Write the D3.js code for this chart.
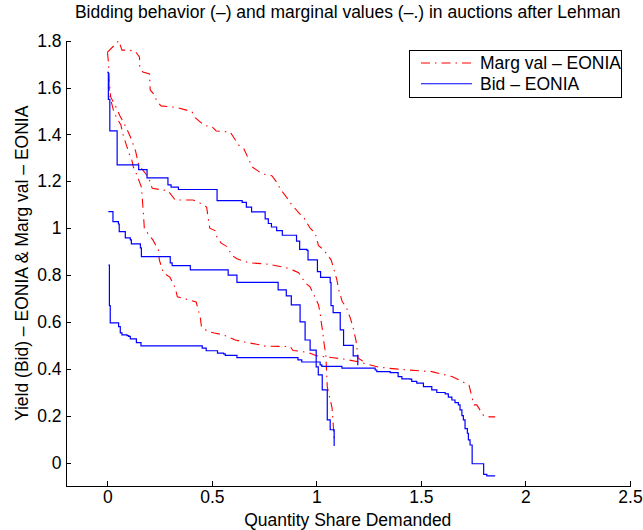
<!DOCTYPE html>
<html>
<head>
<meta charset="utf-8">
<script src="https://cdn.jsdelivr.net/npm/d3@7"></script>
<style>
  body { margin: 0; background: #fff; }
  svg { display: block; font-family: "Liberation Sans", Arial, sans-serif; }
</style>
</head>
<body>
<div id="chart"></div>
<script>
// marginal values (dash-dot, red)
const margValA = [[0.0,1.75],[0.055,1.80],[0.07,1.76],[0.1,1.76],[0.134,1.755],[0.154,1.73],[0.155,1.69],[0.17,1.666],[0.202,1.658],[0.205,1.59],[0.225,1.569],[0.238,1.54],[0.257,1.522],[0.285,1.519],[0.333,1.515],[0.405,1.497],[0.42,1.472],[0.464,1.438],[0.50,1.433],[0.521,1.415],[0.588,1.41],[0.628,1.355],[0.652,1.341],[0.68,1.287],[0.692,1.262],[0.74,1.232],[0.787,1.224],[0.808,1.199],[0.827,1.168],[0.859,1.13],[0.875,1.108],[0.916,1.065],[0.938,1.048],[0.97,1.0],[0.994,0.98],[1.01,0.925],[1.033,0.91],[1.071,0.864],[1.08,0.835],[1.098,0.78],[1.106,0.74],[1.124,0.686],[1.142,0.665],[1.162,0.617],[1.176,0.575],[1.19,0.518],[1.195,0.48],[1.2,0.445],[1.228,0.43]];
const margValB = [[0.001,1.75],[0.006,1.70],[0.01,1.62],[0.016,1.56],[0.04,1.52],[0.06,1.48],[0.09,1.43],[0.11,1.39],[0.135,1.33],[0.15,1.27],[0.19,1.225],[0.2,1.21],[0.215,1.17],[0.25,1.165],[0.29,1.16],[0.325,1.12],[0.41,1.12],[0.445,1.107],[0.475,1.09],[0.483,1.04],[0.49,1.0],[0.515,0.99],[0.526,0.957],[0.545,0.936],[0.575,0.92],[0.595,0.885],[0.62,0.87],[0.65,0.86],[0.68,0.852],[0.755,0.848],[0.79,0.843],[0.86,0.83],[0.89,0.82],[0.915,0.81],[0.932,0.788],[0.946,0.767],[0.97,0.75],[0.985,0.72],[1.0,0.694],[1.01,0.673],[1.018,0.638],[1.023,0.6],[1.03,0.56],[1.037,0.506],[1.045,0.46],[1.05,0.366],[1.052,0.323],[1.066,0.268],[1.075,0.233],[1.08,0.17],[1.085,0.095]];
const margValC = [[0.008,1.625],[0.01,1.57],[0.03,1.5],[0.045,1.47],[0.065,1.44],[0.075,1.40],[0.1,1.33],[0.105,1.316],[0.115,1.30],[0.125,1.26],[0.14,1.23],[0.163,1.175],[0.167,1.13],[0.172,1.07],[0.177,1.0],[0.195,0.976],[0.218,0.95],[0.244,0.907],[0.249,0.864],[0.268,0.81],[0.3,0.79],[0.325,0.745],[0.335,0.707],[0.392,0.694],[0.425,0.685],[0.445,0.617],[0.45,0.58],[0.48,0.56],[0.511,0.553],[0.555,0.545],[0.612,0.523],[0.65,0.515],[0.714,0.505],[0.755,0.497],[0.875,0.495],[0.888,0.478],[0.92,0.475],[0.966,0.468],[1.0,0.456],[1.08,0.447],[1.128,0.442],[1.2,0.43],[1.296,0.408],[1.338,0.403],[1.44,0.395],[1.552,0.388],[1.648,0.367],[1.70,0.345],[1.73,0.33],[1.745,0.276],[1.754,0.246],[1.767,0.246],[1.80,0.2],[1.83,0.195],[1.855,0.195]];

// bids (solid, blue)
const bidA = [[0.0,1.665],[0.005,1.55],[0.012,1.415],[0.045,1.415],[0.047,1.27],[0.15,1.27],[0.15,1.25],[0.19,1.25],[0.19,1.215],[0.29,1.215],[0.29,1.185],[0.305,1.175],[0.34,1.165],[0.52,1.165],[0.525,1.118],[0.64,1.118],[0.645,1.11],[0.665,1.09],[0.69,1.07],[0.755,1.065],[0.755,1.04],[0.77,1.02],[0.785,1.005],[0.81,0.99],[0.837,0.97],[0.894,0.97],[0.905,0.945],[0.92,0.91],[0.955,0.905],[0.96,0.865],[0.999,0.865],[1.005,0.815],[1.02,0.79],[1.066,0.768],[1.07,0.67],[1.08,0.64],[1.114,0.566],[1.13,0.5],[1.176,0.455],[1.198,0.415]];
const bidB = [[0.005,1.071],[0.027,1.071],[0.027,1.028],[0.053,1.018],[0.057,0.985],[0.086,0.959],[0.11,0.95],[0.115,0.933],[0.158,0.916],[0.163,0.879],[0.293,0.879],[0.301,0.852],[0.31,0.84],[0.387,0.84],[0.397,0.822],[0.548,0.822],[0.578,0.80],[0.62,0.769],[0.793,0.769],[0.817,0.737],[0.856,0.711],[0.88,0.673],[0.908,0.673],[0.922,0.6],[0.946,0.523],[0.97,0.48],[0.999,0.408],[1.009,0.374],[1.028,0.31],[1.052,0.182],[1.066,0.14],[1.085,0.071]];
const bidC = [[0.005,0.843],[0.01,0.67],[0.014,0.596],[0.054,0.596],[0.054,0.58],[0.062,0.553],[0.07,0.545],[0.094,0.542],[0.102,0.538],[0.11,0.528],[0.134,0.528],[0.139,0.512],[0.161,0.505],[0.161,0.498],[0.453,0.498],[0.454,0.488],[0.473,0.477],[0.525,0.477],[0.527,0.467],[0.556,0.464],[0.564,0.457],[0.62,0.448],[0.906,0.448],[0.912,0.438],[0.93,0.429],[1.018,0.417],[1.026,0.41],[1.066,0.41],[1.122,0.403],[1.281,0.395],[1.289,0.388],[1.353,0.384],[1.391,0.367],[1.409,0.357],[1.448,0.356],[1.456,0.346],[1.48,0.339],[1.512,0.324],[1.552,0.31],[1.576,0.299],[1.616,0.293],[1.631,0.279],[1.648,0.267],[1.663,0.256],[1.679,0.246],[1.687,0.225],[1.696,0.2],[1.703,0.182],[1.711,0.145],[1.722,0.125],[1.727,0.097],[1.735,0.075],[1.745,-0.005],[1.79,-0.005],[1.8,-0.05],[1.815,-0.057],[1.855,-0.057]];

const xTicks = [0, 0.5, 1, 1.5, 2, 2.5];
const xTickLabels = ["0", "0.5", "1", "1.5", "2", "2.5"];
const yTicks = [0, 0.2, 0.4, 0.6, 0.8, 1, 1.2, 1.4, 1.6, 1.8];
const yTickLabels = ["0", "0.2", "0.4", "0.6", "0.8", "1", "1.2", "1.4", "1.6", "1.8"];
const legendLabels = ["Marg val \u2013 EONIA", "Bid \u2013 EONIA"];

const width = 643, height = 530;
const fontSize = "17.5px";
const dashDot = "9,5,1.5,5";

const svg = d3.select("#chart").append("svg")
  .attr("width", width)
  .attr("height", height);

const x = d3.scaleLinear().domain([-0.2, 2.5]).range([65.5, 630]);
const y = d3.scaleLinear().domain([-0.1, 1.8]).range([486, 40.7]);

const line = d3.line()
  .x(d => x(d[0]))
  .y(d => y(d[1]));
const stepLine = d3.line()
  .x(d => x(d[0]))
  .y(d => y(d[1]))
  .curve(d3.curveStepAfter);

// marginal value curves first, bids on top
[margValA, margValB, margValC].forEach(s => {
  svg.append("path")
    .datum(s)
    .attr("fill", "none")
    .attr("stroke", "#ff0000")
    .attr("stroke-width", 1.1)
    .attr("stroke-dasharray", dashDot)
    .attr("d", line);
});

[bidA, bidB, bidC].forEach(s => {
  svg.append("path")
    .datum(s)
    .attr("fill", "none")
    .attr("stroke", "#0000ff")
    .attr("stroke-width", 1.2)
    .attr("d", stepLine);
});

// axes, ticks pointing inside
const xAxis = svg.append("g")
  .attr("transform", `translate(0,${y(-0.1)})`)
  .call(d3.axisBottom(x)
    .tickValues(xTicks)
    .tickFormat((d, i) => xTickLabels[i])
    .tickSizeInner(-5)
    .tickSizeOuter(0)
    .tickPadding(5));

const yAxis = svg.append("g")
  .attr("transform", `translate(${x(-0.2)},0)`)
  .call(d3.axisLeft(y)
    .tickValues(yTicks)
    .tickFormat((d, i) => yTickLabels[i])
    .tickSizeInner(-5)
    .tickSizeOuter(0)
    .tickPadding(4));

[xAxis, yAxis].forEach(a => {
  a.selectAll("path, line").attr("stroke", "#000").attr("shape-rendering", "crispEdges");
  a.selectAll("text")
    .attr("fill", "#000")
    .style("font-size", fontSize)
    .style("font-family", "\"Liberation Sans\", Arial, sans-serif");
});

// title and labels
svg.append("text")
  .attr("x", (x(-0.2) + x(2.5)) / 2)
  .attr("y", 18)
  .attr("text-anchor", "middle")
  .style("font-size", fontSize)
  .text("Bidding behavior (\u2013) and marginal values (\u2013.) in auctions after Lehman");

svg.append("text")
  .attr("x", (x(-0.2) + x(2.5)) / 2)
  .attr("y", 526)
  .attr("text-anchor", "middle")
  .style("font-size", fontSize)
  .text("Quantity Share Demanded");

svg.append("text")
  .attr("transform", `translate(28,${(y(-0.1) + y(1.8)) / 2}) rotate(-90)`)
  .attr("text-anchor", "middle")
  .style("font-size", fontSize)
  .text("Yield (Bid) \u2013 EONIA & Marg val \u2013 EONIA");

// legend
const legend = svg.append("g").attr("transform", "translate(409,50)");
legend.append("rect")
  .attr("width", 212)
  .attr("height", 47)
  .attr("fill", "#fff")
  .attr("stroke", "#000")
  .attr("shape-rendering", "crispEdges");

const legendStyles = [
  { color: "#ff0000", dash: dashDot },
  { color: "#0000ff", dash: null }
];
legendLabels.forEach((lab, i) => {
  const ly = 13 + i * 20.7;
  legend.append("line")
    .attr("x1", 12).attr("x2", 63)
    .attr("y1", ly).attr("y2", ly)
    .attr("stroke", legendStyles[i].color)
    .attr("stroke-width", 1.1)
    .attr("stroke-dasharray", legendStyles[i].dash);
  legend.append("text")
    .attr("x", 71)
    .attr("y", ly + 6.3)
    .style("font-size", fontSize)
    .text(lab);
});
</script>
</body>
</html>
